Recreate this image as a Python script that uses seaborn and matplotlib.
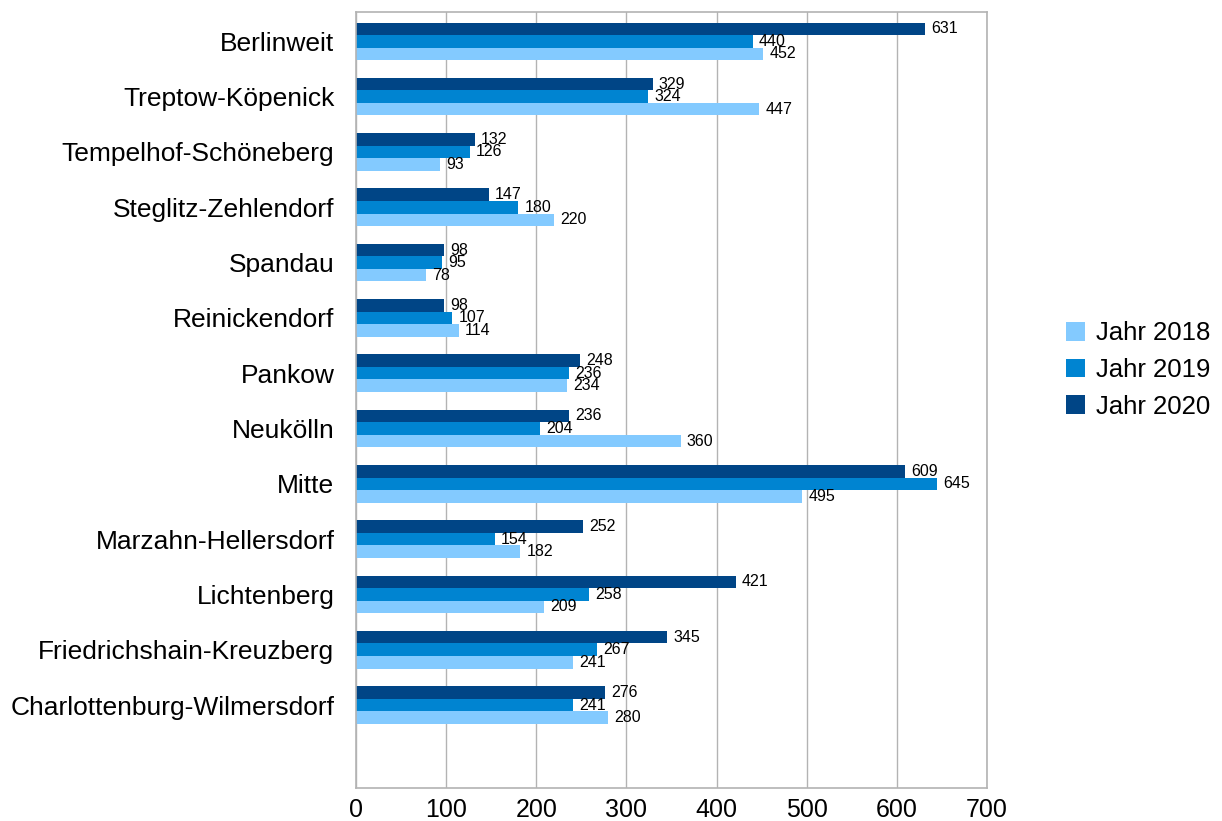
import matplotlib
matplotlib.use("Agg")
import matplotlib.pyplot as plt
import seaborn as sns
import pandas as pd
from matplotlib.patches import Patch

categories = ["Berlinweit", "Treptow-Köpenick", "Tempelhof-Schöneberg", "Steglitz-Zehlendorf",
              "Spandau", "Reinickendorf", "Pankow", "Neukölln", "Mitte", "Marzahn-Hellersdorf",
              "Lichtenberg", "Friedrichshain-Kreuzberg", "Charlottenburg-Wilmersdorf"]
jahr_2018 = [452, 447, 93, 220, 78, 114, 234, 360, 495, 182, 209, 241, 280]
jahr_2019 = [440, 324, 126, 180, 95, 107, 236, 204, 645, 154, 258, 267, 241]
jahr_2020 = [631, 329, 132, 147, 98, 98, 248, 236, 609, 252, 421, 345, 276]
series_names = ["Jahr 2018", "Jahr 2019", "Jahr 2020"]
colors = {"Jahr 2018": "#83CAFF", "Jahr 2019": "#0084D1", "Jahr 2020": "#004586"}

rows = []
for name, vals in zip(series_names, [jahr_2018, jahr_2019, jahr_2020]):
    for c, v in zip(categories, vals):
        rows.append({"Bezirk": c, "Serie": name, "Wert": v})
df = pd.DataFrame(rows)

sns.set_style("white")
plt.rcParams["font.family"] = ["Liberation Sans", "DejaVu Sans"]
plt.rcParams["text.color"] = "black"
plt.rcParams["xtick.color"] = "black"
plt.rcParams["ytick.color"] = "black"

fig = plt.figure(figsize=(12.22, 8.21), dpi=100)
ax = fig.add_axes([356/1222, 1-788/821, (987-356)/1222, (788-12)/821])

hue_order = ["Jahr 2020", "Jahr 2019", "Jahr 2018"]
sns.barplot(data=df, y="Bezirk", x="Wert", hue="Serie", hue_order=hue_order, order=categories,
            palette=colors, orient="h", width=0.68, saturation=1, ax=ax, legend=False,
            edgecolor="none", linewidth=0)

for cont in ax.containers:
    ax.bar_label(cont, padding=4.5, fontsize=11.5, color="black")

ax.set_xlim(0, 700)
ax.set_ylim(13.5, -0.53)
ax.set_xticks(range(0, 701, 100))
ax.xaxis.grid(True, color="#b3b3b3", linewidth=1)
ax.set_axisbelow(True)
ax.set_xlabel("")
ax.set_ylabel("")
ax.tick_params(axis="both", length=0, labelcolor="black")
ax.tick_params(axis="x", pad=7, labelsize=18)
ax.tick_params(axis="y", pad=15.5, labelsize=19)
for s in ax.spines.values():
    s.set_visible(True)
    s.set_color("#b3b3b3")
    s.set_linewidth(1.2)

handles = [Patch(facecolor=colors[n], edgecolor="none") for n in series_names]
fig.legend(handles, series_names, loc="center left", bbox_to_anchor=(1066/1222, 1-370/821),
           frameon=False, fontsize=18.5, handlelength=0.75, handleheight=0.75,
           handletextpad=0.4, labelspacing=0.5, borderaxespad=0, borderpad=0)

fig.savefig("out.png", dpi=100)
